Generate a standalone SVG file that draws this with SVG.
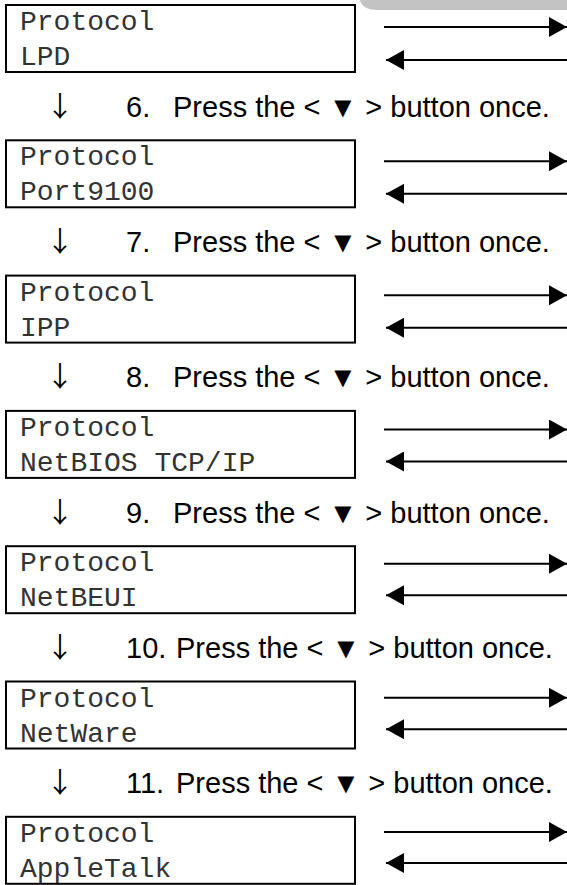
<svg xmlns="http://www.w3.org/2000/svg" width="567" height="885" viewBox="0 0 567 885">
<style>
.box{fill:#fff;stroke:#000;stroke-width:2}
.lcd{font-family:"Liberation Mono","Courier New",monospace;font-size:28px;fill:#333}
.step{font-family:"Liberation Sans",Arial,sans-serif;font-size:29px;fill:#000}
.dn{font-family:"Noto Sans CJK JP","Liberation Sans",sans-serif;font-size:28px;fill:#000;text-anchor:middle}
.ln{stroke:#000;stroke-width:2;fill:none}
</style>
<defs>
<marker id="ah" viewBox="0 0 18 20" refX="18" refY="10" markerWidth="18" markerHeight="20" markerUnits="userSpaceOnUse" orient="auto">
<path d="M0,0 L18,10 L0,20 Z" fill="#000"/>
</marker>
</defs>
<rect width="567" height="885" fill="#fff"/>
<path d="M360,0 H567 V10 H378 Q362,10 360,0 Z" fill="#c3c3c3"/>

<g id="n1"><rect class="box" x="6" y="5" width="349" height="67"/><text class="lcd" x="20" y="30">Protocol</text><text class="lcd" x="20" y="65">LPD</text></g>
<g id="n2"><rect class="box" x="6" y="140.3" width="349" height="67"/><text class="lcd" x="20" y="165.3">Protocol</text><text class="lcd" x="20" y="200.3">Port9100</text></g>
<g id="n3"><rect class="box" x="6" y="275.6" width="349" height="67"/><text class="lcd" x="20" y="300.6">Protocol</text><text class="lcd" x="20" y="335.6">IPP</text></g>
<g id="n4"><rect class="box" x="6" y="410.9" width="349" height="67"/><text class="lcd" x="20" y="435.9">Protocol</text><text class="lcd" x="20" y="470.9">NetBIOS TCP/IP</text></g>
<g id="n5"><rect class="box" x="6" y="546.2" width="349" height="67"/><text class="lcd" x="20" y="571.2">Protocol</text><text class="lcd" x="20" y="606.2">NetBEUI</text></g>
<g id="n6"><rect class="box" x="6" y="681.5" width="349" height="67"/><text class="lcd" x="20" y="706.5">Protocol</text><text class="lcd" x="20" y="741.5">NetWare</text></g>
<g id="n7"><rect class="box" x="6" y="816.8" width="349" height="67"/><text class="lcd" x="20" y="841.8">Protocol</text><text class="lcd" x="20" y="876.8">AppleTalk</text></g>

<g id="steps">
<text class="dn" x="60" y="116.8">↓</text><text class="step" x="126" y="116.8">6.</text><text class="step" x="173" y="116.8">Press the &lt; ▼ &gt; button once.</text>
<text class="dn" x="60" y="252.1">↓</text><text class="step" x="126" y="252.1">7.</text><text class="step" x="173" y="252.1">Press the &lt; ▼ &gt; button once.</text>
<text class="dn" x="60" y="387.4">↓</text><text class="step" x="126" y="387.4">8.</text><text class="step" x="173" y="387.4">Press the &lt; ▼ &gt; button once.</text>
<text class="dn" x="60" y="522.7">↓</text><text class="step" x="126" y="522.7">9.</text><text class="step" x="173" y="522.7">Press the &lt; ▼ &gt; button once.</text>
<text class="dn" x="60" y="658">↓</text><text class="step" x="126" y="658">10.</text><text class="step" x="176" y="658">Press the &lt; ▼ &gt; button once.</text>
<text class="dn" x="60" y="793.3">↓</text><text class="step" x="126" y="793.3">11.</text><text class="step" x="176" y="793.3">Press the &lt; ▼ &gt; button once.</text>
</g>

<g id="connectors">
<line class="ln" x1="384" y1="27" x2="567" y2="27" marker-end="url(#ah)"/>
<line class="ln" x1="567" y1="60" x2="386" y2="60" marker-end="url(#ah)"/>
<line class="ln" x1="384" y1="161.2" x2="567" y2="161.2" marker-end="url(#ah)"/>
<line class="ln" x1="567" y1="193.8" x2="386" y2="193.8" marker-end="url(#ah)"/>
<line class="ln" x1="384" y1="295.3" x2="567" y2="295.3" marker-end="url(#ah)"/>
<line class="ln" x1="567" y1="327.7" x2="386" y2="327.7" marker-end="url(#ah)"/>
<line class="ln" x1="384" y1="429.5" x2="567" y2="429.5" marker-end="url(#ah)"/>
<line class="ln" x1="567" y1="461.5" x2="386" y2="461.5" marker-end="url(#ah)"/>
<line class="ln" x1="384" y1="563.7" x2="567" y2="563.7" marker-end="url(#ah)"/>
<line class="ln" x1="567" y1="595.3" x2="386" y2="595.3" marker-end="url(#ah)"/>
<line class="ln" x1="384" y1="697.8" x2="567" y2="697.8" marker-end="url(#ah)"/>
<line class="ln" x1="567" y1="729.2" x2="386" y2="729.2" marker-end="url(#ah)"/>
<line class="ln" x1="384" y1="832" x2="567" y2="832" marker-end="url(#ah)"/>
<line class="ln" x1="567" y1="863" x2="386" y2="863" marker-end="url(#ah)"/>
</g>
</svg>
